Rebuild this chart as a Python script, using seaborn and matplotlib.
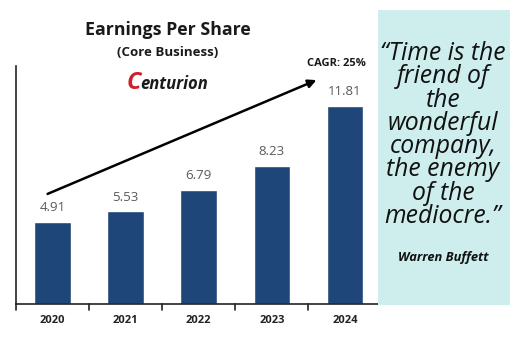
import matplotlib
matplotlib.use("Agg")
import matplotlib.pyplot as plt
import seaborn as sns
import pandas as pd
from matplotlib.patches import Rectangle

years = ["2020", "2021", "2022", "2023", "2024"]
eps = [4.91, 5.53, 6.79, 8.23, 11.81]
value_labels = ["4.91", "5.53", "6.79", "8.23", "11.81"]
title = "Earnings Per Share"
subtitle = "(Core Business)"
cagr_label = "CAGR: 25%"
quote = "\u201cTime is the\nfriend of\nthe\nwonderful\ncompany,\nthe enemy\nof the\nmediocre.\u201d"
author = "Warren Buffett"

sns.set_theme(style="white")
plt.rcParams['font.family'] = ['Open Sans', 'DejaVu Sans']

W, H = 518, 343
fig = plt.figure(figsize=(W / 100, H / 100), dpi=100)
fig.patch.set_facecolor("white")

ax_l, ax_r, ax_t, ax_b = 16, 381.5, 66, 304
ax = fig.add_axes([ax_l / W, (H - ax_b) / H, (ax_r - ax_l) / W, (ax_b - ax_t) / H])

df = pd.DataFrame({"year": years, "eps": eps})
sns.barplot(data=df, x="year", y="eps", color="#1f4678", saturation=1, width=0.5, ax=ax)
ax.set_xlim(-0.5, 4.5)
ax.set_ylim(0, 14.2)
ax.set_xlabel("")
ax.set_ylabel("")
ax.set_yticks([])
ax.set_xticks(range(len(years)))
ax.set_xticklabels(years, fontsize=8, fontweight="bold", color="#222222")
ax.tick_params(axis="x", length=0, pad=8)
for s in ["top", "right"]:
    ax.spines[s].set_visible(False)
for s in ["left", "bottom"]:
    ax.spines[s].set_visible(True)
    ax.spines[s].set_color("#222222")
    ax.spines[s].set_linewidth(1.2)
# boundary ticks
for b in [-0.5, 0.5, 1.5, 2.5, 3.5]:
    ax.plot([b, b], [0, -0.35], color="#222222", lw=1.2, clip_on=False)

for i, (v, lab) in enumerate(zip(eps, value_labels)):
    ax.text(i, v + 0.85, lab, ha="center", va="center", fontsize=9.5, color="#595959")

def fx(x):
    return x / W
def fy(y):
    return 1 - y / H

fig.patches.append(matplotlib.patches.FancyArrowPatch(
    (fx(45), fy(195)), (fx(319), fy(79)), transform=fig.transFigure,
    arrowstyle="-|>", mutation_scale=12, color="black", lw=1.8))

fig.text(fx(168), fy(30), title, ha="center", va="center", fontsize=12.8, fontweight="bold", color="#1a1a1a")
fig.text(fx(168), fy(53), subtitle, ha="center", va="center", fontsize=9.5, fontweight="bold", color="#1a1a1a")
fig.text(fx(336), fy(63), cagr_label, ha="center", va="center", fontsize=8, fontweight="bold", color="#1a1a1a")
# logo
fig.text(fx(141), fy(83), "C", ha="right", va="center", fontsize=17, fontweight="bold", style="italic", color="#d0202a")
fig.text(fx(140), fy(84), "enturion", ha="left", va="center", fontsize=12, fontweight="bold", style="italic", color="#1a1a1a")

# quote panel
fig.patches.append(Rectangle((fx(378), fy(305)), (510 - 378) / W, (305 - 10) / H,
                             transform=fig.transFigure, facecolor="#cdeeed", edgecolor="none", zorder=0))
fig.text(fx(443), fy(135), quote, ha="center", va="center", fontsize=17.8, style="italic",
         family=["Open Sans", "DejaVu Sans"], color="#111111", linespacing=0.91)
fig.text(fx(443), fy(258), author, ha="center", va="center", fontsize=9.3, style="italic",
         fontweight="bold", family=["Open Sans", "DejaVu Sans"], color="#111111")

fig.savefig("out.png", dpi=100)
